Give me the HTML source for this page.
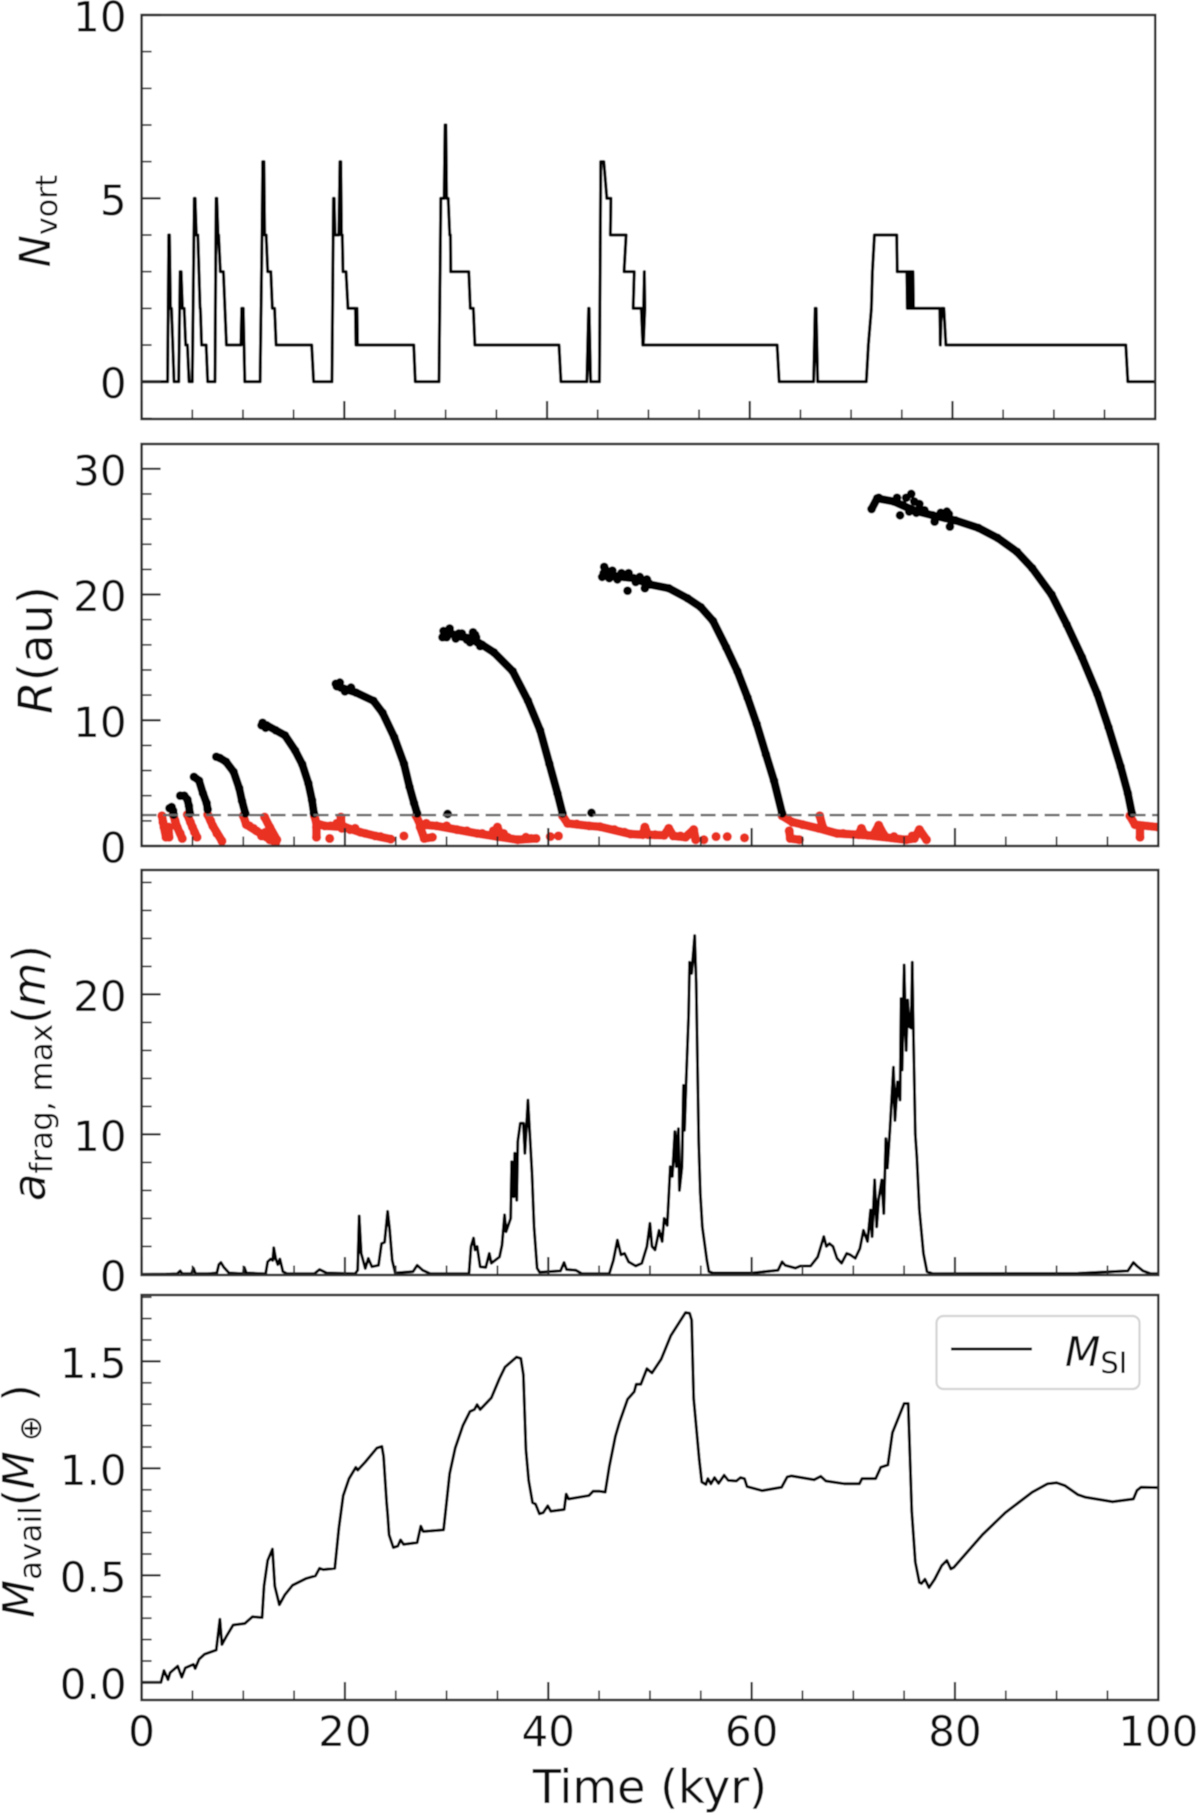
<!DOCTYPE html>
<html lang="en">
<head>
<meta charset="utf-8">
<title>Vortex evolution over time</title>
<style>
html,body{margin:0;padding:0;background:#fff;}
svg{display:block;}
text{font-family:"DejaVu Sans","Liberation Sans",sans-serif;fill:#111;}
</style>
</head>
<body>
<svg id="figure" xmlns="http://www.w3.org/2000/svg" width="1200" height="1813" viewBox="0 0 1200 1813">
<defs>
<filter id="soft" x="0" y="0" width="100%" height="100%"><feGaussianBlur stdDeviation="0.6"/></filter>
<clipPath id="clip-1"><rect x="141.6" y="15" width="1013.6" height="404"/></clipPath>
<clipPath id="clip-2"><rect x="141.6" y="444" width="1016.6" height="402"/></clipPath>
<clipPath id="clip-3"><rect x="141.6" y="870" width="1016.6" height="405"/></clipPath>
<clipPath id="clip-4"><rect x="141.6" y="1295" width="1016.6" height="405"/></clipPath>
</defs>
<g id="root" filter="url(#soft)">
<rect x="0" y="0" width="1200" height="1813" fill="#fff"/>
<g id="layer-marks"></g>
<g id="layer-axes"></g>
<text transform="translate(50,221) rotate(-90)" text-anchor="middle" font-size="43"><tspan font-style="italic">N</tspan><tspan font-size="30" dy="7">vort</tspan></text>
<text transform="translate(52,650) rotate(-90)" text-anchor="middle" font-size="47"><tspan font-style="italic">R</tspan>(au)</text>
<text transform="translate(45,1073) rotate(-90)" text-anchor="middle" font-size="45"><tspan font-style="italic">a</tspan><tspan font-size="31" dy="7">frag, max</tspan><tspan dy="-7">(</tspan><tspan font-style="italic">m</tspan>)</text>
<text transform="translate(34,1501) rotate(-90)" text-anchor="middle" font-size="44"><tspan font-style="italic">M</tspan><tspan font-size="31" dy="7">avail</tspan><tspan dy="-7">(</tspan><tspan font-style="italic">M</tspan><tspan font-size="31" dy="7"> ⊕</tspan><tspan dy="-7"> )</tspan></text>
<text x="650" y="1803" text-anchor="middle" font-size="46">Time (kyr)</text>
<g>
<rect x="936.5" y="1316" width="203" height="73" rx="7" ry="7" fill="#fff" fill-opacity="0.85" stroke="#d4d4d4" stroke-width="2.2"/>
<line x1="951" y1="1349" x2="1032" y2="1349" stroke="#111" stroke-width="3"/>
<text x="1065" y="1366" font-size="41"><tspan font-style="italic">M</tspan><tspan font-size="29" dy="7">SI</tspan></text>
</g>
</g>
</svg>
<script>
// ---- Panel 1: vortex count ----
var nvortTimes = [0,2.56,2.68,2.75,2.85,2.95,3.2,3.66,3.8,3.9,4.03,4.2,4.35,4.52,4.68,5,5.2,5.28,5.4,5.55,5.77,5.8,5.92,6.37,6.52,7.24,7.35,7.42,7.54,7.6,7.77,8.07,8.37,9.8,9.88,10.03,10.18,11.69,11.88,11.95,12.07,12.14,12.29,12.44,12.75,12.9,13.12,13.27,16.78,16.97,18.78,18.93,19,19.08,19.46,19.57,19.65,19.72,19.8,19.87,20.17,20.36,21.1,21.15,21.25,21.3,26.85,27,29.34,29.52,29.85,29.94,30.02,30.09,30.25,30.4,30.47,30.5,32.28,32.43,32.73,32.88,41.18,41.37,43.93,44.1,44.15,44.3,45.17,45.3,45.6,45.9,46.3,46.25,47.8,47.6,48.6,48.5,49.3,49.45,49.6,49.65,49.5,62.7,62.9,66.3,66.45,66.55,66.7,71.5,71.7,72,72.1,72.3,74.5,74.55,75.5,75.55,75.65,75.7,75.8,75.85,75.95,76,76.1,76.15,78.75,78.8,78.9,79.15,79.35,97.1,97.3,100];
var nvortValues = [0,0,4,4,2,2,0,0,3,3,2,2,1,1,0,0,5,5,4,4,2,2,1,1,0,0,5,5,4,4,3,3,1,1,2,2,0,0,4,6,6,4,4,3,3,2,2,1,1,0,0,5,5,4,4,6,6,4,4,3,3,2,2,1,2,1,1,0,0,5,5,7,7,5,5,4,4,3,3,2,2,1,1,0,0,2,2,0,0,6,6,5,5,4,4,3,3,2,2,1,3,2,1,1,0,0,2,2,0,0,1,2,3,4,4,3,3,2,3,2,3,2,3,2,3,2,2,1,2,2,1,1,0,0];
var nvortMajorTicks = [0,5,10];
var nvortMinorTicks = [-1,1,2,3,4,6,7,8,9];

// ---- Panel 2: vortex radial position ----
var arcTimes = [
 [2.75,2.95,3.1,3.15],
 [3.8,4.2,4.5,4.65,4.75],
 [5.15,5.65,6.03,6.4,6.5],
 [7.35,7.7,8.3,9.05,9.6,9.87,10.2],
 [11.8,12.3,13.2,14.1,15.1,15.8,16.4,16.76,16.95],
 [19.1,19.6,21.1,22.8,23.7,24.85,25.8,26.35,26.8,27.1],
 [29.75,30.2,31,32.5,33.5,34.65,36.5,38,39.2,40.1,40.9,41.4],
 [45.45,46.6,48.4,50,51.85,53.7,55,56.2,57.5,58.6,59.6,60.5,61.4,62.2,63],
 [71.8,72.35,74,75.9,77.8,80.05,82.3,84.2,86.1,87.6,89.5,91,92.5,94,95.1,96.3,97,97.4]
];
var arcRadii = [
 [3,3.1,2.8,2.5],
 [4,4,3.7,3.2,2.6],
 [5.5,5.2,4.2,3.4,2.9],
 [7.1,7,6.7,5.9,4.6,3.6,2.6],
 [9.6,9.6,9.2,8.8,7.6,6.5,5,3.65,2.6],
 [12.9,12.6,12.2,11.55,10.6,8.65,6.55,4.7,3.4,2.6],
 [16.8,17,16.7,16.5,16,15.4,13.9,11.55,9.2,6.55,4.2,2.6],
 [21.7,21.45,21.3,20.8,20.5,19.7,19,17.9,15.8,13.9,11.8,9.7,7.3,5.2,2.6],
 [26.8,27.65,27.4,26.7,26.3,25.9,25.3,24.5,23.4,22.1,20,17.6,15,12.1,9.45,6.3,4.2,2.6]
];
var blackDotTimes = [30.1,44.25,29.6,29.7,30.3,30.9,31.5,32.3,32.8,33,33.3,32.6,45.3,45.5,46,46.3,47.9,47.8,49.5,49.7,72.5,74.3,74.6,75.7,76.2,76,78,79.5,79.2,79.7,19.2,19.5,20,20.6,11.9,12.2,30,31.2,32,32.9,45.6,46.8,47.2,48.6,49,49.9,74.9,75.2,75.5,76.5,77,78.6,79,79.4];
var blackDotRadii = [2.55,2.64,16.6,17.1,17.3,16.5,16.9,16.2,16.8,16.2,15.9,17,21.4,22.2,21.3,21.9,21.7,20.3,20.5,21.2,27.7,27.7,26.3,28,26.5,27.4,25.8,25.4,26.6,25.9,12.7,13,12.3,12.6,9.8,9.4,16.6,16.9,16.4,16.6,22,21.2,21.7,21,21.4,20.9,27.1,27.7,26.6,27.2,26.7,26.5,26.1,26.4];
var redTimes = [
 [2,2.2,2.4,2.7,2.65],
 [3.1,3.5,4],
 [4.5,5,5.45],
 [6.5,7,7.9],
 [10,10.3,11.3,12.3,13.2],
 [12.1,12.6,13.3],
 [17,17.2,18,20,21.5,23,24.5],
 [17.2,17.2],
 [19.6,19.7],
 [27,27.4,29,31,33,35,37,38.8],
 [27.4,27.8,28.6],
 [34.8,35,35.3],
 [41.4,41.9,44,45.1,48.1,49.3,49.5,49.8,51.4,51.85,52.3,53.5,54.3,54.5],
 [63,64,66.6,68.4,71.4,75.2,76,76.5,77.2],
 [63.7,63.8,64.7],
 [66.7,67],
 [70.5,70.8,71.1],
 [72,72.5,73],
 [97.2,97.7,100],
 [98.2,98.2]
];
var redRadii = [
 [2.4,1.5,0.7,0.7,1.5],
 [2.5,1.5,0.6],
 [2.5,1.5,0.7],
 [2.5,1.6,0.4],
 [2.4,1.7,1.2,0.7,0.3],
 [2.3,1.5,0.5],
 [2.4,1.8,1.6,1.5,1.1,0.8,0.55],
 [1.5,0.7],
 [2.3,1.4],
 [2.4,1.7,1.6,1.3,1,0.75,0.5,0.6],
 [1.5,0.6,0.7],
 [0.9,1.5,0.9],
 [2.4,1.8,1.6,1.53,0.95,0.9,1.5,0.9,0.85,1.4,0.8,0.7,1.3,0.5],
 [2.4,1.9,1.4,1,0.85,0.5,0.6,1.3,0.5],
 [1.2,0.6,0.5],
 [2.4,1.5],
 [0.9,1.4,0.9],
 [0.9,1.65,0.9],
 [2.4,1.7,1.5],
 [1.6,0.7]
];
var redDotTimes = [18.5,25.8,40.2,41,55.3,56.5,57.6,59.3,2.1,2.5,3.3,3.8,4.8,5.2,6.8,7.4,10.6,11,11.8,12.2,12.6,12.9,18.6,19.2,20.5,21,22,23.5,28,30,32,33.5,34.6,35.6,36,37.8,38.3,42.8,46.5,47.5,50.5,53,53.8,65,69,72,74,75.8];
var redDotRadii = [0.6,0.8,0.75,0.8,0.5,0.75,0.75,0.65,1.9,1.1,2,1,1.9,1.1,2,1,1.6,1.4,0.8,1.1,0.5,1,1.6,1.8,1.3,1.4,1,0.75,1.8,1.6,1.2,1,1.2,1,0.7,0.7,0.6,1.75,1.3,1.1,0.9,0.8,0.9,1.7,1,0.9,0.75,0.8];
var snowLineRadius = [2.46];
var radiusMajorTicks = [0,10,20,30];
var radiusMinorTicks = [2,4,6,8,12,14,16,18,22,24,26,28];

// ---- Panel 3: maximum fragment size ----
var afragTimes = [0,2.4,3.5,3.8,4,4.9,5.1,5.3,6.5,7.4,7.6,7.8,8.1,8.6,10,10.1,10.3,12,12.2,12.4,12.7,12.9,13,13.2,13.4,13.6,13.9,14.3,17,17.5,18.2,21,21.25,21.4,21.6,22,22.3,22.65,23.3,23.6,23.9,24.2,24.4,24.65,24.95,26.7,27.1,27.65,28.4,32.2,32.4,32.65,32.8,33,33.3,33.85,34.2,34.4,35.2,35.45,35.7,35.85,36.3,36.4,36.6,36.7,36.9,37,37.25,37.55,37.7,38,38.4,38.6,38.9,39.15,41.2,41.55,41.8,42.7,43.3,45.1,46,46.4,46.8,47.15,47.5,47.9,48.6,49.2,49.7,50,50.2,50.5,50.9,51.2,51.4,51.7,52,52.2,52.45,52.6,52.8,52.9,53.15,53.3,53.4,53.55,53.8,53.9,54.1,54.4,54.55,54.8,54.95,55.15,55.6,55.8,56.2,60.1,62.6,63,63.3,64.3,64.8,65.8,66.5,67.1,67.35,67.65,68,68.4,68.85,69.35,69.7,70.2,70.65,71,71.4,71.7,71.85,72.1,72.3,72.5,72.8,73,73.2,73.35,73.6,73.95,74.1,74.35,74.6,74.7,74.8,75,75.2,75.35,75.5,75.7,75.8,75.9,76.1,76.25,76.5,76.9,77.25,77.8,92.1,97,97.55,97.9,98.5,99.25,100];
var afragValues = [0,0.02,0.05,0.25,0.05,0.05,0.45,0.05,0.05,0.1,0.7,0.85,0.5,0.1,0.05,0.5,0.1,0.05,0.05,0.9,1.1,1,1.9,1.1,0.7,1.1,0.2,0.05,0.05,0.35,0.1,0.05,0.3,4.17,1.5,0.43,1.14,0.55,0.65,2.2,2.3,4.5,3.2,1,0.1,0.2,0.65,0.3,0.05,0.05,2,2.6,1.75,2,0.55,0.5,1.5,0.8,1.25,2.1,4.25,3.05,4,8.05,5.55,8.65,5.3,9.5,10.8,10.8,8.65,12.45,7.2,3.4,0.45,0.15,0.25,0.85,0.35,0.3,0.05,0.05,0.05,1,2.45,1.4,1.5,0.9,0.6,0.8,2,3.65,2,1.75,3.15,2.35,4,3.5,7.7,7,10.2,7.7,10.4,6,7.7,13.5,10.3,13.6,18.5,22.3,21.5,24.2,20.8,9.4,5.8,3.4,1,0.2,0.1,0.1,0.3,0.9,0.65,0.45,0.6,0.6,1.25,2.7,2,2.2,2,1.15,0.8,1.5,1.4,1.15,1.85,3.15,2.35,4.6,2.7,6.75,3.4,5.4,6.75,4.35,9.7,7.6,10.3,14.8,11,13.75,12.45,19.7,14.6,22.1,16,19.6,17.7,17.6,22.3,17.7,10,8.4,4.6,1.5,0.2,0.05,0.07,0.25,0.85,0.6,0.25,0.05,0.05];
var afragMajorTicks = [0,10,20];
var afragMinorTicks = [2,4,6,8,12,14,16,18,22,24,26,28];

// ---- Panel 4: available mass ----
var massTimes = [0,1.9,2.2,2.6,2.8,3.55,3.95,4.3,5.1,5.27,5.65,6.2,7.34,7.7,7.9,8.3,9,10.15,10.9,11.85,12.04,12.4,12.87,13.1,13.55,14.1,14.85,16.2,17.1,17.5,17.87,19,19.4,19.83,20.4,21.07,21.26,22,23.14,23.63,23.8,24.1,24.2,24.34,24.76,25.2,25.47,25.77,27.1,27.46,27.7,29.7,29.9,30.3,30.85,31.6,32.3,32.73,33,33.3,34.4,35.2,35.74,36.87,37.3,37.55,37.8,38.07,38.45,38.75,39.13,39.5,39.95,40.25,41.57,41.76,42,44,44.4,45.07,45.6,46,46.6,47,47.8,48.45,48.65,49.1,49.7,50.2,51.1,52.05,53.5,53.9,54.1,54.3,54.85,55.1,55.5,55.7,56,56.35,56.75,57.3,57.7,58.5,58.9,59.3,59.55,61.05,62.95,63.5,63.9,66.15,66.8,67.3,69.15,70.6,70.85,72.2,72.7,73.4,73.85,75,75.4,75.55,75.75,76.1,76.5,76.7,77.05,77.45,78,78.7,79.2,79.6,79.9,82.7,84.95,87.6,89.1,90,90.8,92.1,92.85,95.5,97.55,97.9,98.3,100];
var massValues = [0,0,0.055,0.013,0.045,0.076,0.024,0.068,0.084,0.065,0.108,0.132,0.151,0.295,0.177,0.212,0.268,0.275,0.307,0.303,0.45,0.57,0.623,0.45,0.363,0.41,0.454,0.486,0.498,0.533,0.527,0.533,0.72,0.873,0.952,1.005,0.992,1.03,1.095,1.103,1.056,0.84,0.785,0.69,0.63,0.637,0.666,0.645,0.653,0.73,0.705,0.713,0.8,0.976,1.096,1.2,1.266,1.275,1.298,1.275,1.33,1.42,1.473,1.52,1.514,1.438,1.088,0.944,0.84,0.833,0.788,0.793,0.825,0.8,0.808,0.88,0.857,0.873,0.893,0.893,0.889,1.008,1.15,1.215,1.323,1.358,1.393,1.393,1.466,1.446,1.51,1.62,1.728,1.725,1.693,1.326,1.04,0.936,0.925,0.952,0.928,0.957,0.93,0.968,0.944,0.941,0.957,0.952,0.915,0.896,0.912,0.96,0.965,0.947,0.963,0.941,0.928,0.928,0.952,0.952,1.005,1.016,1.167,1.303,1.303,1.088,0.8,0.562,0.467,0.462,0.482,0.443,0.482,0.546,0.57,0.53,0.538,0.69,0.793,0.889,0.928,0.933,0.92,0.877,0.865,0.844,0.857,0.897,0.912,0.91];
var massMajorTicks = [0,0.5,1,1.5];
var massMinorTicks = [0.1,0.2,0.3,0.4,0.6,0.7,0.8,0.9,1.1,1.2,1.3,1.4,1.6,1.7,1.8];
var massTickLabels = ['0.0','0.5','1.0','1.5'];

// ---- Shared time axis ----
var timeMajorTicks = [0,20,40,60,80,100];
var timeMinorTicks = [5,10,15,25,30,35,45,50,55,65,70,75,85,90,95];

var NS = 'http://www.w3.org/2000/svg';
var marksLayer = document.getElementById('layer-marks');
var axesLayer = document.getElementById('layer-axes');

function makeSvg(tag, attrs, parent) {
  var el = document.createElementNS(NS, tag);
  for (var key in attrs) { el.setAttribute(key, attrs[key]); }
  parent.appendChild(el);
  return el;
}
function linearScale(d0, d1, r0, r1) {
  return function (v) { return r0 + (v - d0) * (r1 - r0) / (d1 - d0); };
}

var panels = [
  {key:'nvort',  left:141.6, right:1155.2, top:15,  bottom:419,  xScale:linearScale(0,100,141.6,1155.2), yScale:linearScale(0,10,381.7,15)},
  {key:'radius', left:141.6, right:1158.3, top:444, bottom:846,  xScale:linearScale(0,100,141.6,1158.3), yScale:linearScale(0,30,846,468.8)},
  {key:'afrag',  left:141.6, right:1158.3, top:870, bottom:1275, xScale:linearScale(0,100,141.6,1158.3), yScale:linearScale(0,20,1274.4,994.4)},
  {key:'mass',   left:141.6, right:1158.3, top:1295,bottom:1700, xScale:linearScale(0,100,141.6,1158.3), yScale:linearScale(0,1.5,1682.4,1361.4)}
];

function drawLine(panelIndex, times, values, name, stroke, width) {
  var p = panels[panelIndex];
  var pts = times.map(function (t, i) { return p.xScale(t).toFixed(2) + ',' + p.yScale(values[i]).toFixed(2); }).join(' ');
  var line = makeSvg('polyline', {points: pts, fill:'none', stroke:stroke, 'stroke-width':width, 'stroke-linejoin':'round', 'stroke-linecap':'round', 'clip-path':'url(#clip-' + (panelIndex + 1) + ')'}, marksLayer);
  
  
  return line;
}
function drawDots(panelIndex, times, values, name, fill, r) {
  var p = panels[panelIndex];
  var g = makeSvg('g', {fill:fill, 'clip-path':'url(#clip-' + (panelIndex + 1) + ')'}, marksLayer);
  
  
  times.forEach(function (t, i) {
    makeSvg('circle', {cx:p.xScale(t).toFixed(2), cy:p.yScale(values[i]).toFixed(2), r:r}, g);
  });
}

// Series
drawLine(0, nvortTimes, nvortValues, 'nvort-line', '#050505', 3.2);
redTimes.forEach(function (times, i) {
  drawLine(1, times, redRadii[i], 'inner-vortex-track', '#ea3323', 8.6);
  drawDots(1, times, redRadii[i], 'inner-vortex-points', '#ea3323', 4.6);
});
drawDots(1, redDotTimes, redDotRadii, 'inner-vortex-isolated-points', '#ea3323', 4.6);
arcTimes.forEach(function (times, i) {
  drawLine(1, times, arcRadii[i], 'vortex-migration-track', '#050505', 8.2);
  drawDots(1, times, arcRadii[i], 'vortex-migration-points', '#050505', 4.4);
});
drawDots(1, blackDotTimes, blackDotRadii, 'vortex-scatter-points', '#050505', 4.4);
var pRadius = panels[1];
var snowLine = makeSvg('line', {x1:pRadius.left, x2:pRadius.right, y1:pRadius.yScale(snowLineRadius[0]), y2:pRadius.yScale(snowLineRadius[0]), stroke:'#666', 'stroke-width':2.4, 'stroke-dasharray':'15 6.5'}, marksLayer);


drawLine(2, afragTimes, afragValues, 'afrag-line', '#050505', 3);
drawLine(3, massTimes, massValues, 'msi-line', '#050505', 3);

// Axes
function drawAxes(index, yMajor, yMinor, yLabels, showX) {
  var p = panels[index];
  var g = makeSvg('g', {stroke:'#262626'}, axesLayer);
  
  
  timeMajorTicks.forEach(function (t) {
    var x = p.xScale(t);
    makeSvg('line', {x1:x, x2:x, y1:p.bottom, y2:p.bottom - 18, 'stroke-width':2.2}, g);
  });
  timeMinorTicks.forEach(function (t) {
    var x = p.xScale(t);
    makeSvg('line', {x1:x, x2:x, y1:p.bottom, y2:p.bottom - 9.5, 'stroke-width':1.7}, g);
  });
  yMajor.forEach(function (v, i) {
    var y = p.yScale(v);
    makeSvg('line', {x1:p.left, x2:p.left + 19, y1:y, y2:y, 'stroke-width':2.2}, g);
    var label = makeSvg('text', {x:p.left - 15, y:y + 16.5, 'text-anchor':'end', 'font-size':42, stroke:'none'}, axesLayer);
    
    
    label.textContent = yLabels ? yLabels[i] : String(v);
  });
  yMinor.forEach(function (v) {
    var y = p.yScale(v);
    makeSvg('line', {x1:p.left, x2:p.left + 10, y1:y, y2:y, 'stroke-width':1.7}, g);
  });
  var spine = makeSvg('rect', {x:p.left, y:p.top, width:p.right - p.left, height:p.bottom - p.top, fill:'none', stroke:'#2a2a2a', 'stroke-width':2.5}, axesLayer);
  
  
  if (showX) {
    timeMajorTicks.forEach(function (t) {
      var label = makeSvg('text', {x:p.xScale(t), y:1746, 'text-anchor':'middle', 'font-size':42}, axesLayer);
      
      
      label.textContent = String(t);
    });
  }
}
drawAxes(0, nvortMajorTicks, nvortMinorTicks, null, false);
drawAxes(1, radiusMajorTicks, radiusMinorTicks, null, false);
drawAxes(2, afragMajorTicks, afragMinorTicks, null, false);
drawAxes(3, massMajorTicks, massMinorTicks, massTickLabels, true);
</script>
</body>
</html>
